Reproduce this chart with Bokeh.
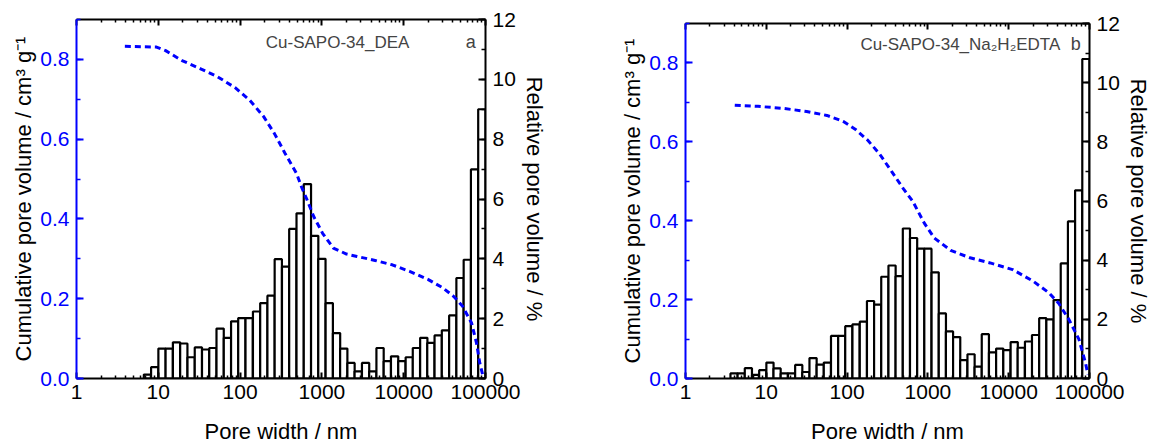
import numpy as np
from bokeh.plotting import figure
from bokeh.models import (Range1d, LinearAxis, LogAxis, FixedTicker, SingleIntervalTicker,
                          NumeralTickFormatter, Label, Spacer)
from bokeh.layouts import row, column
from bokeh.embed import file_html
from bokeh.resources import INLINE

# ---------------- data ----------------
# bin centres (pore width, nm) and relative pore volume (%)
centers_a = [7.37, 9.04, 11.1, 13.6, 16.7, 20.5, 25.2, 30.9, 37.9, 46.5, 57.0, 70.0, 85.9, 105, 129,
             159, 195, 239, 293, 360, 441, 542, 665, 816, 1000, 1230, 1510, 1850, 2270, 2780,
             3420, 4190, 5140, 6310, 7740, 9500, 11700, 14300, 17600, 21500, 26400, 32400, 39800,
             48800, 59900, 73500, 90200]
rel_a = [0.13, 0.38, 1.0, 1.0, 1.21, 1.17, 0.71, 1.04, 0.97, 1.02, 1.67, 1.36, 1.91, 2.02, 2.02,
         2.24, 2.52, 2.77, 3.99, 3.74, 5.0, 5.52, 6.5, 4.77, 4.0, 2.52, 1.52, 1.0, 0.52, 0.24,
         0.52, 0.24, 1.02, 0.58, 0.74, 0.58, 0.71, 1.02, 1.36, 1.19, 1.44, 1.61, 2.11, 3.36,
         3.97, 6.99, 9.0]

centers_b = [3.99, 4.89, 6.00, 7.37, 9.04, 11.1, 13.6, 16.7, 20.5, 25.2, 30.9, 37.9, 46.5, 57.0,
             70.0, 85.9, 105, 129, 159, 195, 239, 293, 360, 441, 542, 665, 816, 1000, 1230, 1510,
             1850, 2270, 2780, 3420, 4190, 5140, 6310, 7740, 9500, 11700, 14300, 17600, 21500,
             26400, 32400, 39800, 48800, 59900, 73500, 90200]
rel_b = [0.17, 0.17, 0.35, 0.12, 0.28, 0.54, 0.34, 0.17, 0.17, 0.46, 0.22, 0.69, 0.47, 0.54,
         1.44, 1.44, 1.77, 1.83, 1.92, 2.62, 2.50, 3.44, 3.82, 3.46, 5.07, 4.75, 4.39, 4.39,
         3.59, 2.20, 1.59, 1.40, 0.62, 0.82, 0.40, 1.50, 0.88, 1.01, 0.96, 1.23, 1.04, 1.25,
         1.47, 2.04, 2.0, 2.65, 3.89, 5.31, 6.36, 10.8]

# cumulative pore volume (cm3/g) vs pore width (nm)
cum_w_a = [3.9, 9.5, 12.3, 19.5, 32.4, 52.5, 87, 132, 195, 263, 355, 490, 562, 661, 794, 1020,
           1380, 2000, 2690, 4470, 7240, 12000, 20000, 30200, 40700, 52500, 67600, 77600, 85100,
           93300]
cum_v_a = [0.833, 0.831, 0.822, 0.797, 0.777, 0.757, 0.729, 0.697, 0.656, 0.614, 0.564, 0.514,
           0.481, 0.447, 0.406, 0.364, 0.327, 0.312, 0.306, 0.296, 0.285, 0.268, 0.248, 0.227,
           0.206, 0.181, 0.139, 0.089, 0.039, 0.006]

cum_w_b = [4.07, 7.9, 15.8, 31.6, 56.2, 89.1, 126, 178, 251, 355, 501, 646, 902, 1200, 1910,
           3310, 5890, 11200, 20000, 31600, 41700, 56200, 74100, 89100, 95500]
cum_v_b = [0.693, 0.690, 0.685, 0.677, 0.667, 0.652, 0.632, 0.605, 0.570, 0.525, 0.480, 0.450,
           0.394, 0.356, 0.325, 0.306, 0.293, 0.276, 0.247, 0.217, 0.190, 0.148, 0.099, 0.040,
           0.010]

x_ticks = [1, 10, 100, 1000, 10000, 100000]
name_a = "Cu-SAPO-34_DEA"
name_b = "Cu-SAPO-34_Na\u2082H\u2082EDTA"
x_title = "Pore width / nm"
y_title = "Cumulative pore volume / cm\u00b3 g\u207b\u00b9"
y2_title = "Relative pore volume / %"

FONT = "Liberation Sans"
BLUE = "#0000FF"
H = 446
minor_x = [m * 10 ** e for e in range(5) for m in range(2, 10)]


def style_axis(ax, color, tick_in, minor_in, label_color="black", label_size="21px"):
    ax.axis_line_color = color
    ax.axis_line_width = 2
    ax.major_tick_line_color = color
    ax.major_tick_line_width = 2
    ax.minor_tick_line_color = color
    ax.minor_tick_line_width = 1.5
    ax.major_tick_in = tick_in
    ax.major_tick_out = 0
    ax.minor_tick_in = minor_in
    ax.minor_tick_out = 0
    ax.major_label_text_color = label_color
    ax.major_label_text_font = FONT
    ax.major_label_text_font_size = label_size
    ax.axis_label_text_font = FONT
    ax.axis_label_text_font_size = "22px"
    ax.axis_label_text_font_style = "normal"
    ax.axis_label_text_color = "black"


def panel(centers, rel, cw, cv, name, letter, name_x, letter_x, label_y,
          width, height, bl, br, bt, frame_h):
    p = figure(width=width, height=height, x_axis_type="log",
               x_range=Range1d(1, 100000), y_range=Range1d(0, 0.9),
               output_backend="svg", toolbar_location=None,
               min_border_left=bl, min_border_right=br, min_border_top=bt,
               min_border_bottom=height - bt - frame_h)
    p.outline_line_color = None
    p.xgrid.visible = False
    p.ygrid.visible = False
    p.background_fill_color = "white"
    p.border_fill_color = "white"
    p.extra_y_ranges = {"rel": Range1d(0, 12)}

    c = np.array(centers, dtype=float)
    r = (c[-1] / c[0]) ** (1.0 / (len(c) - 1))
    half = np.sqrt(r)
    p.quad(left=c / half, right=c * half, bottom=0, top=rel, y_range_name="rel",
           fill_color="white", line_color="black", line_width=2.2)
    p.line(cw, cv, line_color=BLUE, line_width=3, line_dash="6 4")

    xa = p.xaxis[0]
    xa.ticker = FixedTicker(ticks=x_ticks, minor_ticks=minor_x)
    xa.formatter = NumeralTickFormatter(format="0")
    xa.axis_label = x_title
    style_axis(xa, "black", 6, 3)
    xa.major_label_standoff = 6
    xa.axis_label_standoff = 17

    top = LogAxis(ticker=FixedTicker(ticks=x_ticks, minor_ticks=minor_x))
    style_axis(top, "black", 6, 3, label_size="1px")
    top.major_label_text_alpha = 0
    top.major_label_standoff = 0
    p.add_layout(top, "above")

    ya = p.yaxis[0]
    ya.ticker = SingleIntervalTicker(interval=0.2, num_minor_ticks=2)
    ya.formatter = NumeralTickFormatter(format="0.0")
    ya.axis_label = y_title
    style_axis(ya, BLUE, 7, 4, label_color=BLUE)
    ya.major_label_standoff = 7
    ya.axis_label_standoff = 1

    ra = LinearAxis(y_range_name="rel",
                    ticker=SingleIntervalTicker(interval=2, num_minor_ticks=2),
                    axis_label=y2_title)
    style_axis(ra, "black", 7, 4)
    ra.major_label_standoff = 7
    ra.axis_label_standoff = 3
    p.add_layout(ra, "right")

    p.add_layout(Label(x=name_x, y=label_y, text=name, text_font=FONT,
                       text_font_size="17px", text_baseline="middle", text_align="left"))
    p.add_layout(Label(x=letter_x, y=label_y, text=letter, text_font=FONT,
                       text_font_size="18px", text_baseline="middle", text_align="left"))
    return p


p1 = panel(centers_a, rel_a, cum_w_a, cum_v_a, name_a, "a", 206, 57500, 0.8425,
           width=600, height=H, bl=76, br=115, bt=19, frame_h=360)
p2 = panel(centers_b, rel_b, cum_w_b, cum_v_b, name_b, "b", 146, 58700, 0.847,
           width=553, height=H - 4, bl=85, br=59, bt=19, frame_h=356)

layout = row(p1, column(Spacer(width=553, height=4), p2))
open("out.html", "w").write(file_html(layout, INLINE))
